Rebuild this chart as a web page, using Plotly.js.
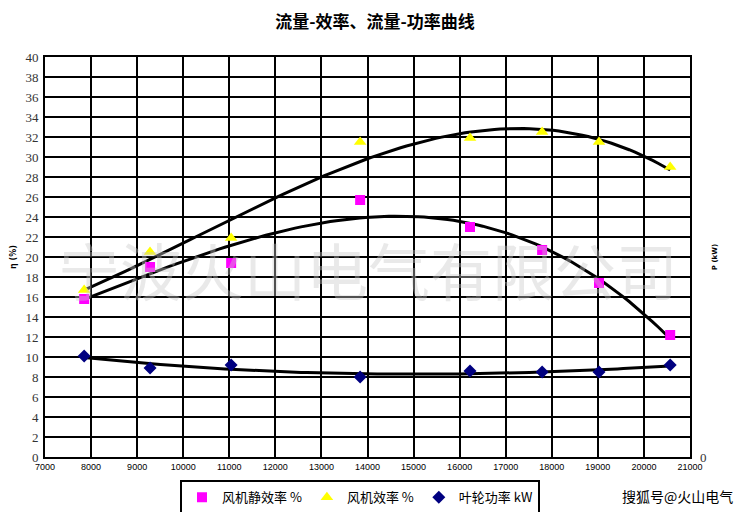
<!DOCTYPE html>
<html>
<head>
<meta charset="utf-8">
<script src="https://cdn.plot.ly/plotly-3.0.1.min.js"></script>
<style>html,body{margin:0;padding:0;background:#fff;}#chart{width:750px;height:512px;}</style>
</head>
<body>
<div id="chart"></div>
<script>
// Data
const flow = [7850, 9280, 11040, 13840, 16225, 17790, 19025, 20570];
const staticEff = [15.8, 19.0, 19.4, 25.7, 23.0, 20.7, 17.4, 12.2];
const fanEff = [16.7, 20.5, 21.9, 31.5, 31.9, 32.5, 31.5, 29.0];
const power = [10.1, 8.9, 9.2, 8.0, 8.6, 8.5, 8.5, 9.2];
const seriesNames = ['风机静效率 %', '风机效率 %', '叶轮功率 kW'];
const xTicks = [7000, 8000, 9000, 10000, 11000, 12000, 13000, 14000, 15000, 16000, 17000, 18000, 19000, 20000, 21000];
const yTicks = [0, 2, 4, 6, 8, 10, 12, 14, 16, 18, 20, 22, 24, 26, 28, 30, 32, 34, 36, 38, 40];

// Polynomial (order 3) least squares trendline, like a spreadsheet trendline
function polyFit(xs, ys, order) {
  const mx = xs.reduce((a, b) => a + b, 0) / xs.length;
  const sx = 5000;
  const t = xs.map(x => (x - mx) / sx);
  const n = order + 1;
  const A = [];
  for (let i = 0; i < n; i++) {
    A.push(new Array(n + 1).fill(0));
  }
  for (let k = 0; k < t.length; k++) {
    for (let i = 0; i < n; i++) {
      for (let j = 0; j < n; j++) A[i][j] += Math.pow(t[k], i + j);
      A[i][n] += ys[k] * Math.pow(t[k], i);
    }
  }
  for (let i = 0; i < n; i++) {
    let p = i;
    for (let r = i + 1; r < n; r++) if (Math.abs(A[r][i]) > Math.abs(A[p][i])) p = r;
    [A[i], A[p]] = [A[p], A[i]];
    for (let r = 0; r < n; r++) {
      if (r === i) continue;
      const f = A[r][i] / A[i][i];
      for (let c = i; c <= n; c++) A[r][c] -= f * A[i][c];
    }
  }
  const coef = A.map((row, i) => row[n] / row[i]);
  return x => {
    const tt = (x - mx) / sx;
    let s = 0;
    for (let i = 0; i < n; i++) s += coef[i] * Math.pow(tt, i);
    return s;
  };
}
function trend(xs, ys) {
  const f = polyFit(xs, ys, 3);
  const x0 = xs[0], x1 = xs[xs.length - 1];
  const cx = [], cy = [];
  for (let i = 0; i <= 100; i++) {
    const x = x0 + (x1 - x0) * i / 100;
    cx.push(x); cy.push(f(x));
  }
  return {cx, cy};
}
const tS = trend(flow, staticEff), tF = trend(flow, fanEff), tP = trend(flow, power);
const lineStyle = {color: '#000000', width: 3};
const data = [
  {x: tF.cx, y: tF.cy, mode: 'lines', line: lineStyle, showlegend: false, hoverinfo: 'skip'},
  {x: tS.cx, y: tS.cy, mode: 'lines', line: lineStyle, showlegend: false, hoverinfo: 'skip'},
  {x: tP.cx, y: tP.cy, mode: 'lines', line: lineStyle, showlegend: false, hoverinfo: 'skip'},
  {x: flow, y: staticEff, name: seriesNames[0], mode: 'markers', marker: {symbol: 'square', color: '#ff00ff', size: 10}},
  {x: flow, y: fanEff, name: seriesNames[1], mode: 'markers', marker: {symbol: 'triangle-up', color: '#ffff00', size: 11}},
  {x: flow, y: power, name: seriesNames[2], mode: 'markers', marker: {symbol: 'diamond', color: '#000080', size: 10}},
  // invisible trace to activate the right-hand axis
  {x: [7000], y: [0], yaxis: 'y2', mode: 'markers', marker: {opacity: 0, color: '#ffffff'}, showlegend: false, hoverinfo: 'skip'}
];
const layout = {
  width: 750, height: 512,
  margin: {l: 45, r: 60, t: 57, b: 55},
  paper_bgcolor: '#ffffff', plot_bgcolor: '#ffffff',
  title: {text: '流量-效率、流量-功率曲线', x: 0.5, xanchor: 'center', y: 0.957, yanchor: 'middle',
          font: {family: 'Noto Sans CJK SC', size: 17, color: '#000000', weight: 'bold'}},
  xaxis: {range: [7000, 21000], tickvals: xTicks, ticktext: xTicks.map(String), automargin: false,
          showgrid: true, gridcolor: '#000000', gridwidth: 2,
          showline: true, linecolor: '#000000', linewidth: 2, mirror: true,
          ticks: '', zeroline: false,
          tickfont: {family: 'Liberation Sans', size: 9, color: '#000000'}},
  yaxis: {range: [0, 40], tickvals: yTicks, showgrid: true, gridcolor: '#000000', gridwidth: 2, automargin: false,
          showline: true, linecolor: '#000000', linewidth: 2, mirror: true,
          ticks: '', zeroline: false, ticklabelstandoff: 2,
          tickfont: {family: 'Liberation Serif', size: 13, color: '#333333'},
          title: {text: 'η (%)', standoff: 8, font: {family: 'DejaVu Sans', size: 8, color: '#000000', weight: 'bold'}}},
  yaxis2: {range: [0, 40], overlaying: 'y', side: 'right', tickvals: [0], ticktext: ['0'], automargin: false,
           showgrid: false, zeroline: false, showline: false, ticks: '', ticklabelstandoff: 9,
           tickfont: {family: 'Liberation Serif', size: 13, color: '#333333'},
           title: {text: 'P (kW)', standoff: 6, font: {family: 'DejaVu Sans', size: 7, color: '#000000', weight: 'bold'}}},
  legend: {orientation: 'h', xref: 'container', yref: 'container', x: 0.24, xanchor: 'left', y: 0.062, yanchor: 'top',
           bordercolor: '#000000', borderwidth: 2, bgcolor: '#ffffff',
           font: {family: 'Noto Sans CJK SC', size: 13, color: '#000000'},
           itemwidth: 30, tracegroupgap: 0},
  annotations: [
    {text: '宁波火山电气有限公司', xref: 'paper', yref: 'paper', x: 0.5, y: 0.47, showarrow: false,
     font: {family: 'Noto Sans CJK SC', size: 62, color: 'rgba(200,200,200,0.4)'}},
    {text: '搜狐号@火山电气', xref: 'paper', yref: 'paper', x: 1.07, xanchor: 'right', y: -0.0975, yanchor: 'middle',
     showarrow: false, font: {family: 'Noto Sans CJK SC', size: 14, color: '#000000'}}
  ],
  showlegend: true
};
Plotly.newPlot('chart', data, layout, {displayModeBar: false, staticPlot: true});
</script>
</body>
</html>
